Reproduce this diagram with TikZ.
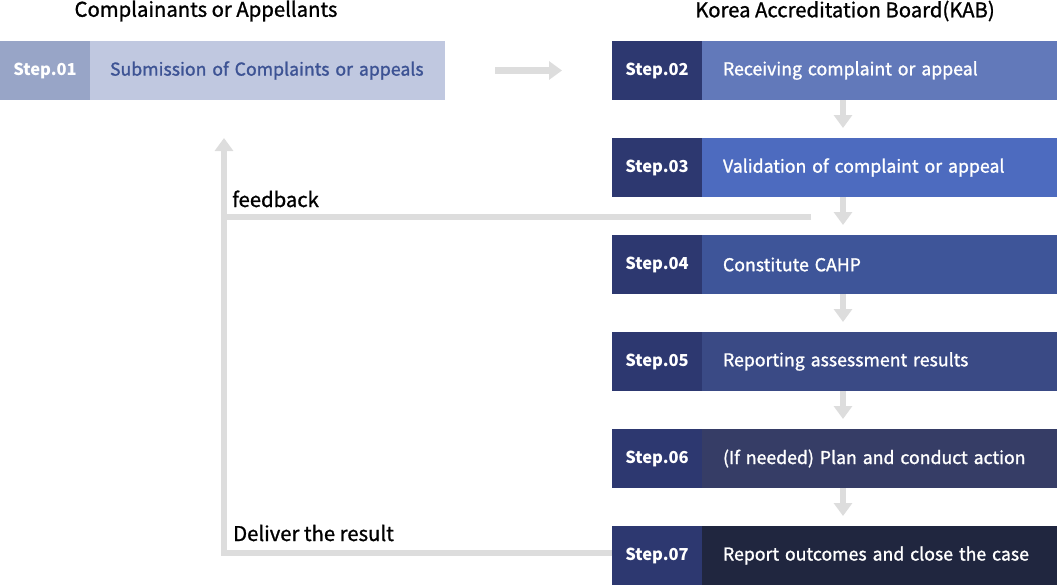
\documentclass[tikz,border=0pt]{standalone}
\usepackage{fontspec}
\setmainfont{Noto Sans CJK KR}
\newfontfamily\medfont{Noto Sans CJK KR}[FakeBold=1.1]
\newfontfamily\boxfont{Noto Sans CJK KR}[FakeBold=1.3]
\usetikzlibrary{positioning, arrows.meta}

\definecolor{kabnavy}{HTML}{2D3870}
\definecolor{applnum}{HTML}{98A5C7}
\definecolor{applfill}{HTML}{C0C8E0}
\definecolor{appltext}{HTML}{3D5394}
\definecolor{flowgray}{HTML}{DDDDDD}
\definecolor{fill02}{HTML}{6279BA}
\definecolor{fill03}{HTML}{4D6BBF}
\definecolor{fill04}{HTML}{3E5599}
\definecolor{fill05}{HTML}{3A4A85}
\definecolor{fill06}{HTML}{363D66}
\definecolor{fill07}{HTML}{20263F}

\begin{document}
\begin{tikzpicture}[
    x=1pt, y=-1pt,
    node distance=38pt and 0pt,
    num/.style={rectangle, fill=kabnavy, text=white, minimum width=90pt, minimum height=59pt, inner sep=0pt, outer sep=0pt, font=\fontsize{16.5}{20}\selectfont\bfseries},
    desc/.style={rectangle, text=white, text width=313pt, inner xsep=21pt, inner ysep=0pt, minimum height=59pt, align=left, outer sep=0pt, font=\boxfont\fontsize{17.7}{21}\selectfont, execute at begin node={\color{.}}},
    title/.style={font=\medfont\fontsize{20.3}{23}\selectfont, text=black},
    note/.style={font=\medfont\fontsize{20.3}{23}\selectfont, text=black, anchor=base west, inner sep=0pt},
    flow/.style={draw=flowgray, line width=6pt, -{Triangle[width=18pt, length=13pt]}},
    link/.style={draw=flowgray, line width=6pt}
]
\useasboundingbox (0,0) rectangle (1057,586);

% Headings
\node[title] (appl) at (206,11) {Complainants or Appellants};
\node[title] (kab) at (845,11) {Korea Accreditation Board(KAB)};

% Step 01
\node[num, fill=applnum, anchor=north west] (s1num) at (0,41) {Step.01};
\node[desc, fill=applfill, text=appltext, inner xsep=20pt, text width=315pt, right=of s1num] (s1) {Submission of Complaints or appeals};

% KAB steps
\node[num, anchor=north west] (s2num) at (612,41) {Step.02};
\node[desc, fill=fill02, right=of s2num] (s2) {Receiving complaint or appeal};
\node[num, below=of s2num] (s3num) {Step.03};
\node[desc, fill=fill03, right=of s3num] (s3) {Validation of complaint or appeal};
\node[num, below=of s3num] (s4num) {Step.04};
\node[desc, fill=fill04, right=of s4num] (s4) {Constitute CAHP};
\node[num, below=of s4num] (s5num) {Step.05};
\node[desc, fill=fill05, right=of s5num] (s5) {Reporting assessment results};
\node[num, below=of s5num] (s6num) {Step.06};
\node[desc, fill=fill06, right=of s6num] (s6) {(If needed) Plan and conduct action};
\node[num, below=of s6num] (s7num) {Step.07};
\node[desc, fill=fill07, right=of s7num] (s7) {Report outcomes and close the case};

% Connections
\draw[flow] ([xshift=50pt]s1.east) -- ([xshift=-50pt]s2num.west);
\foreach \a/\b in {s2num/s3num, s3num/s4num, s4num/s5num, s5num/s6num, s6num/s7num}
    \draw[flow] ([xshift=231pt]\a.south west) -- ([xshift=231pt, yshift=10pt]\b.north west);

% Return path
\coordinate (fbstart) at (811,217);
\coordinate (fbtip) at (224,138);
\draw[flow, line join=miter] ([yshift=3pt]s7num.west) -| (fbtip);
\draw[link] (fbstart) -- (fbstart -| fbtip);

\node[note] (fb) at (232,207) {feedback};
\node[note] (deliver) at (233,541) {Deliver the result};

\end{tikzpicture}
\end{document}
